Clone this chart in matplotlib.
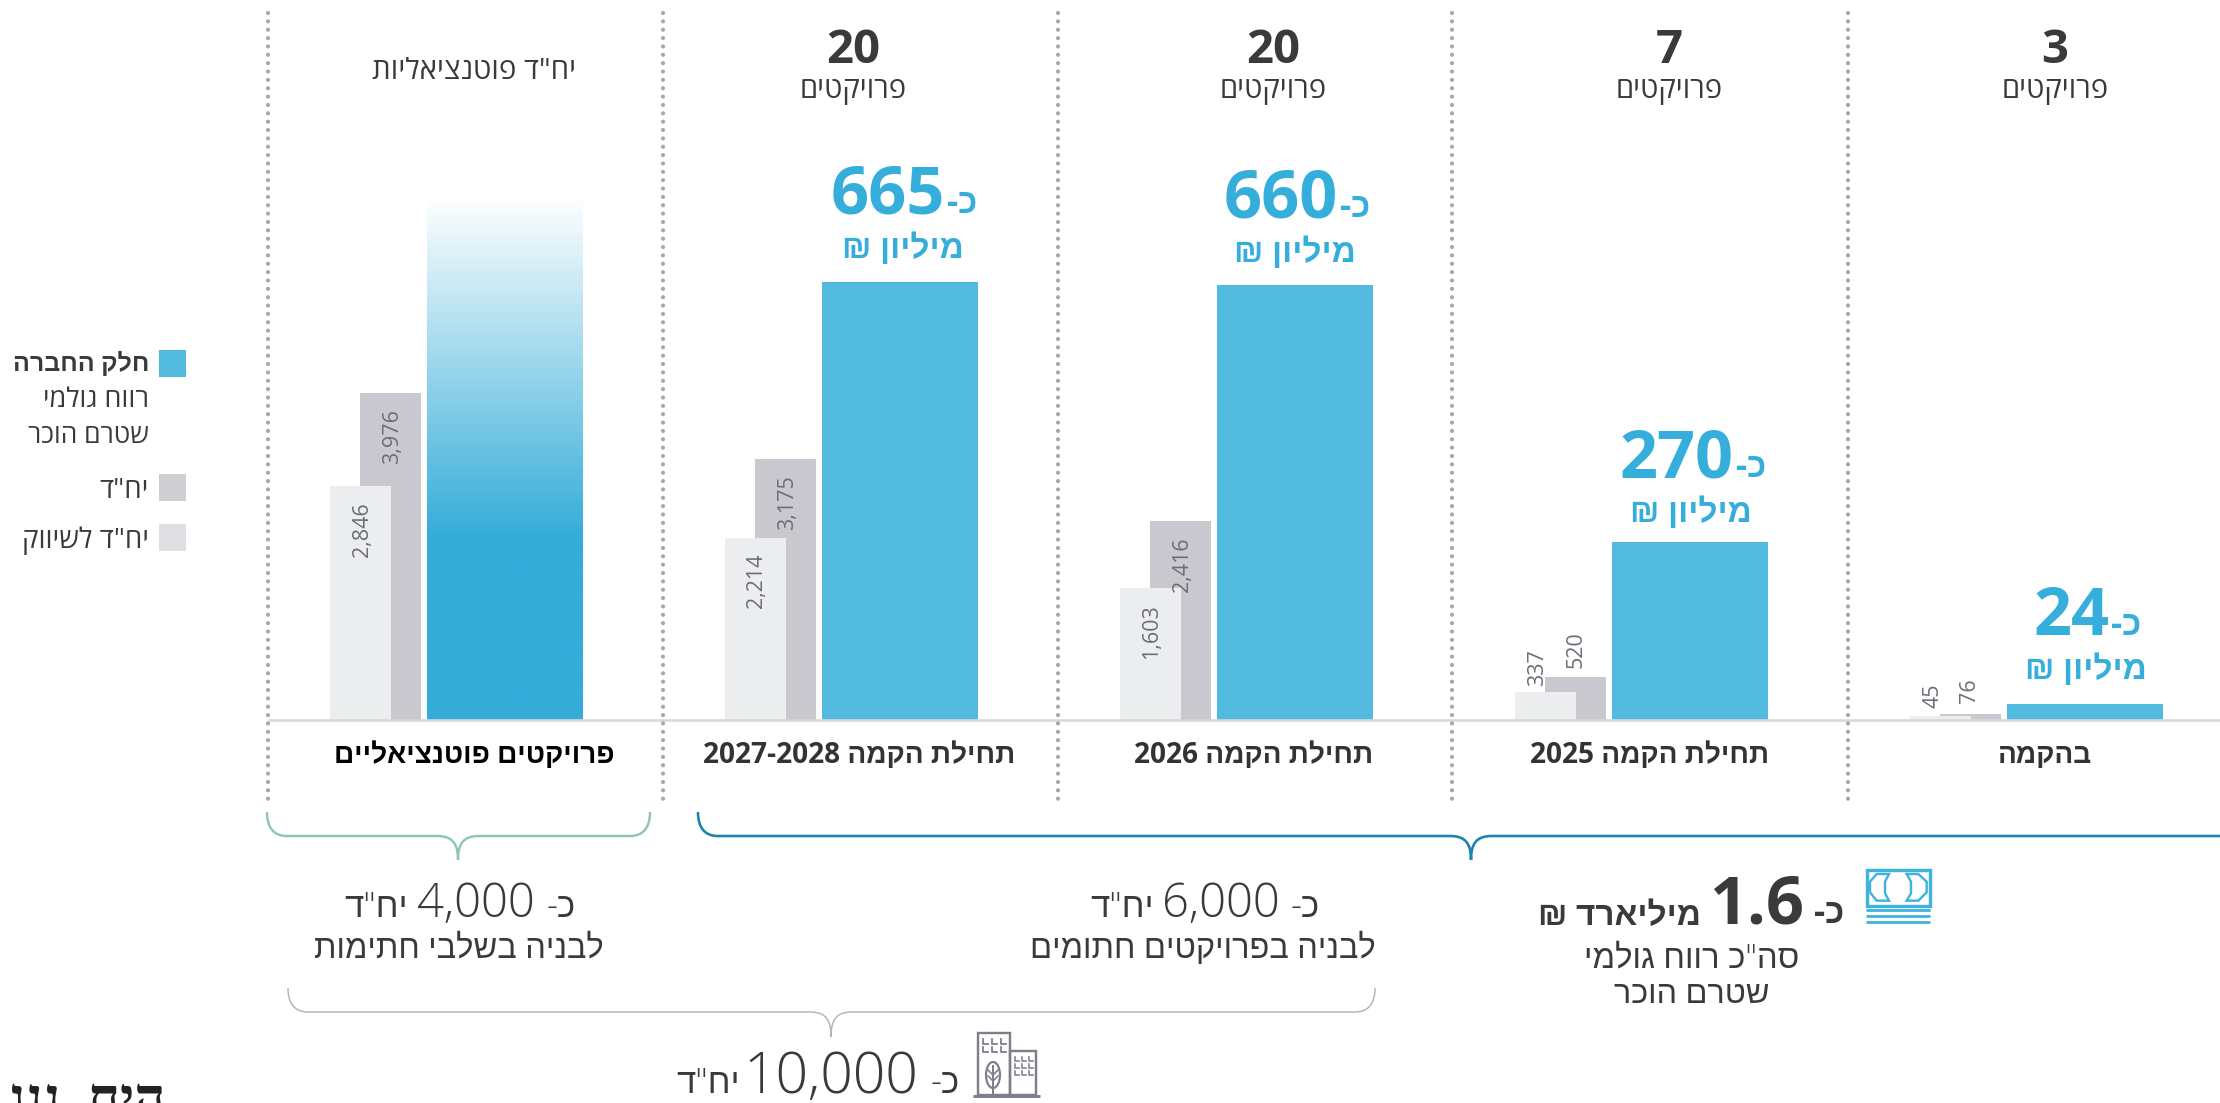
import re
import numpy as np
import matplotlib
matplotlib.use('Agg')
import matplotlib.pyplot as plt
from matplotlib.colors import LinearSegmentedColormap
from matplotlib.patches import Ellipse, PathPatch, Polygon, Rectangle
from matplotlib.path import Path

# data, left to right
stages = ['פרויקטים פוטנציאליים', 'תחילת הקמה 2027-2028', 'תחילת הקמה 2026', 'תחילת הקמה 2025', 'בהקמה']
projects = [20, 20, 7, 3]
marketing_units = [2846, 2214, 1603, 337, 45]
total_units = [3976, 3175, 2416, 520, 76]
profit = [794, 665, 660, 270, 24]
profit_labels = ['665', '660', '270', '24']

W, H = 2220, 1103
BASE = 720
UNIT_PX = 0.0822
PROFIT_PX = 0.659

DARK = '#3a3a3a'
BLUE = '#52b9df'
BLUE_TXT = '#36aedc'
FONT = ['Open Sans', 'Liberation Sans', 'DejaVu Sans']
plt.rcParams['font.family'] = FONT


def vis(s):
    # matplotlib lays text out left to right, so flip the Hebrew and keep numbers as they are
    return re.sub(r'\d[\d,.\-]*\d|\d', lambda m: m.group()[::-1], s[::-1])


def px(v):
    return v * 0.72


fig = plt.figure(figsize=(W / 100, H / 100), dpi=100, facecolor='white')

# bars, with one y scale for units and one for profit
ax_u = fig.add_axes([0, 1 - BASE / H, 1, BASE / H])
ax_u.set_xlim(0, W)
ax_u.set_ylim(0, BASE / UNIT_PX)
ax_u.axis('off')
ax_p = fig.add_axes([0, 1 - BASE / H, 1, BASE / H])
ax_p.set_xlim(0, W)
ax_p.set_ylim(0, BASE / PROFIT_PX)
ax_p.axis('off')

centers = np.array([505 + 395 * i for i in range(5)])
ax_u.bar(centers - 115, total_units, 61, color='#c8c8ce', zorder=2)
ax_u.bar(centers - 145, marketing_units, 61, color='#ecedef', zorder=3)
ax_p.bar(centers[1:], profit[1:], 156, color=BLUE, zorder=2)

# the potential projects bar fades out towards the top
fade = LinearSegmentedColormap.from_list('fade', [(0, '#33acd9'), (0.345, '#33acd9'), (1, '#ffffff')], N=256)
ax_p.imshow(np.linspace(1, 0, 256).reshape(-1, 1), cmap=fade, vmin=0, vmax=1, aspect='auto',
            extent=(centers[0] - 78, centers[0] + 78, 0, profit[0]), zorder=2)
ax_p.set_xlim(0, W)
ax_p.set_ylim(0, BASE / PROFIT_PX)


def unit_label(x, val, dx, dy, va):
    ax_u.annotate(f'{val:,}', (x, val), xytext=(px(dx), px(dy)), textcoords='offset points',
                  rotation=90, ha='center', va=va, fontsize=15.5, color='#6d6d78', zorder=5)


# rotated unit labels: inside the tall bars, above the short ones
for i in range(3):
    unit_label(centers[i] - 145, marketing_units[i], 2, -16, 'top')
    unit_label(centers[i] - 115, total_units[i], 3, -16, 'top')
unit_label(centers[3] - 145, marketing_units[3], -7, 6, 'bottom')
unit_label(centers[3] - 115, total_units[3], 1, 9, 'bottom')
unit_label(centers[4] - 145, marketing_units[4], -7, 8, 'bottom')
unit_label(centers[4] - 115, total_units[4], 0, 11, 'bottom')

# overlay in figure pixels for the layout, the annotations and the icons
ax = fig.add_axes([0, 0, 1, 1])
ax.set_xlim(0, W)
ax.set_ylim(H, 0)
ax.axis('off')
ax.patch.set_alpha(0)


def txt(x, y, s, size, weight='normal', color=DARK, ha='center', family=None):
    ax.text(x, y, s, fontsize=size, fontweight=weight, color=color, ha=ha, va='baseline',
            family=family or FONT)


# axis line and dotted separators
ax.plot([268, W], [BASE, BASE], color='#d8d8d8', lw=px(2.6), solid_capstyle='butt', zorder=1)
for x in (268, 663, 1058, 1452, 1848):
    ax.plot([x, x], [13, 802], color='#a6a6af', lw=px(4.2), linestyle=(0, (0.01, 1.98)),
            dash_capstyle='round', zorder=4)

# top headers
header_x = [853, 1273, 1669, 2055]
for x, n in zip(header_x, projects):
    txt(x, 63, str(n), 34, 'bold')
    txt(x, 98, vis('פרויקטים'), 21)
txt(474, 79, vis('יח"ד פוטנציאליות'), 21.2)

# profit labels above the bars
profit_spots = [(945, 213, 903, 258), (1338, 217, 1295, 262), (1734, 477, 1691, 522), (2109, 635, 2086, 679)]
for (xr, yb, xm, ym), lab in zip(profit_spots, profit_labels):
    txt(xr, yb, lab, 48, 'bold', BLUE_TXT, ha='right')
    txt(xr + 2, yb, vis('כ-'), 25, 'bold', BLUE_TXT, ha='left')
    txt(xm, ym, vis('מיליון ₪'), 24, 'bold', BLUE_TXT)

# stage names under the axis line
stage_x = [474, 859, 1254, 1650, 2045]
for i, (x, s) in enumerate(zip(stage_x, stages)):
    txt(x, 763, vis(s), 20.2, 'bold', '#000000' if i == 0 else '#333333')

# legend
for y, c in ((350, BLUE), (474, '#ceced3'), (524, '#dfdfe3')):
    ax.add_patch(Rectangle((158.5, y), 27, 27, color=c, lw=0))
txt(149, 371, vis('חלק החברה'), 18, 'bold', ha='right')
txt(149, 407, vis('רווח גולמי'), 19.5, ha='right')
txt(149, 443, vis('שטרם הוכר'), 19, ha='right')
txt(149, 498, vis('יח"ד'), 20, ha='right')
txt(149, 548, vis('יח"ד לשיווק'), 20, ha='right')


def brace(x0, x1, tip, y0, y1, y2, color, lw, r=20):
    # rounded bracket with a pointed tip in the middle
    verts = [(x0, y0), (x0, y1 - 8), (x0 + 7, y1), (x0 + r, y1),
             (tip - 21, y1),
             (tip - 5, y1), (tip, y1 + 8), (tip, y2),
             (tip, y1 + 8), (tip + 5, y1), (tip + 21, y1)]
    codes = [Path.MOVETO, Path.CURVE4, Path.CURVE4, Path.CURVE4,
             Path.LINETO,
             Path.CURVE4, Path.CURVE4, Path.CURVE4,
             Path.CURVE4, Path.CURVE4, Path.CURVE4]
    if x1 < W:
        verts += [(x1 - r, y1), (x1 - 7, y1), (x1, y1 - 8), (x1, y0)]
        codes += [Path.LINETO, Path.CURVE4, Path.CURVE4, Path.CURVE4]
    else:
        verts += [(x1, y1)]
        codes += [Path.LINETO]
    ax.add_patch(PathPatch(Path(verts, codes), fc='none', ec=color, lw=px(lw), capstyle='butt'))


brace(267, 650, 458, 812, 836, 860, '#8fc5b9', 2.4)
brace(698, W + 5, 1471, 812, 836, 860, '#1b84ad', 2.6)
brace(288, 1375, 831, 988, 1012, 1037, '#b3b3bb', 1.5)

# unit totals
txt(535, 917, '4,000', 34, 'light', ha='right')
txt(546, 917, vis('כ-'), 25, 'light', ha='left')
txt(408, 917, vis('יח"ד'), 25, 'light', ha='right')
txt(459, 958, vis('לבניה בשלבי חתימות'), 23.5, 'light')

txt(1280, 917, '6,000', 34, 'light', ha='right')
txt(1291, 917, vis('כ-'), 25, 'light', ha='left')
txt(1154, 917, vis('יח"ד'), 25, 'light', ha='right')
txt(1203, 958, vis('לבניה בפרויקטים חתומים'), 23.5, 'light')

txt(918, 1093, '10,000', 41, 'light', ha='right')
txt(930, 1093, vis('כ-'), 25, 'light', ha='left')
txt(740, 1093, vis('יח"ד'), 25, 'light', ha='right')

# total profit
txt(1804, 923, '1.6', 48, 'bold', ha='right')
txt(1814, 923, vis('כ-'), 25, 'bold', ha='left')
txt(1701, 925, vis('מיליארד ₪'), 24, 'bold', ha='right')
txt(1692, 968, vis('סה"כ רווח גולמי'), 23.7, 'light')
txt(1692, 1003, vis('שטרם הוכר'), 23.3, 'light')

# banknote icon
ICON_B = '#3fb3de'
ax.add_patch(Rectangle((1867, 870), 63, 36, fc='none', ec=ICON_B, lw=px(3.4)))
left_mark = [(65, 42), (102, 42), (90, 65), (90, 100), (102, 122), (65, 122), (45, 97), (45, 65)]
right_mark = [(155, 42), (190, 42), (215, 65), (215, 97), (190, 122), (155, 122), (168, 100), (168, 65)]
for mark in (left_mark, right_mark):
    ax.add_patch(Polygon([(1855 + a / 3, 860 + b / 3) for a, b in mark], closed=True, fc='none', ec=ICON_B, lw=px(2.4)))
for y in (910, 916, 922):
    ax.plot([1866, 1930], [y, y], color=ICON_B, lw=px(2.8), solid_capstyle='butt')

# building icon
ICON_G = '#7f7f8b'
ax.add_patch(Rectangle((978, 1033), 32, 62, fc='none', ec=ICON_G, lw=px(2.4)))
ax.add_patch(Rectangle((1010, 1051), 26, 44, fc='none', ec=ICON_G, lw=px(2.4)))
ax.plot([973, 1040], [1096, 1096], color=ICON_G, lw=px(3), solid_capstyle='butt')
for wx, wy in [(a, b) for a in (983, 992, 1001) for b in (1039, 1047)]:
    ax.plot([wx, wx, wx + 5], [wy, wy + 5, wy + 5], color=ICON_G, lw=px(1.8))
for wx, wy in [(a, b) for a in (1015, 1022, 1029) for b in (1057, 1064, 1071)]:
    ax.plot([wx, wx, wx + 4], [wy, wy + 4, wy + 4], color=ICON_G, lw=px(1.6))
ax.add_patch(Ellipse((993, 1075), 14, 26, fc='white', ec=ICON_G, lw=px(2.2)))
ax.plot([993, 993], [1066, 1095], color=ICON_G, lw=px(2))
for by in (1070, 1076):
    ax.plot([988, 993, 998], [by, by + 5, by], color=ICON_G, lw=px(1.6))

# next section heading, cut by the bottom edge
txt(166, 1116, vis('היח  ננג'), 39, 'bold', '#222222', ha='right', family=['Liberation Serif', 'DejaVu Serif'])

fig.savefig('out.png', dpi=100, facecolor='white')
